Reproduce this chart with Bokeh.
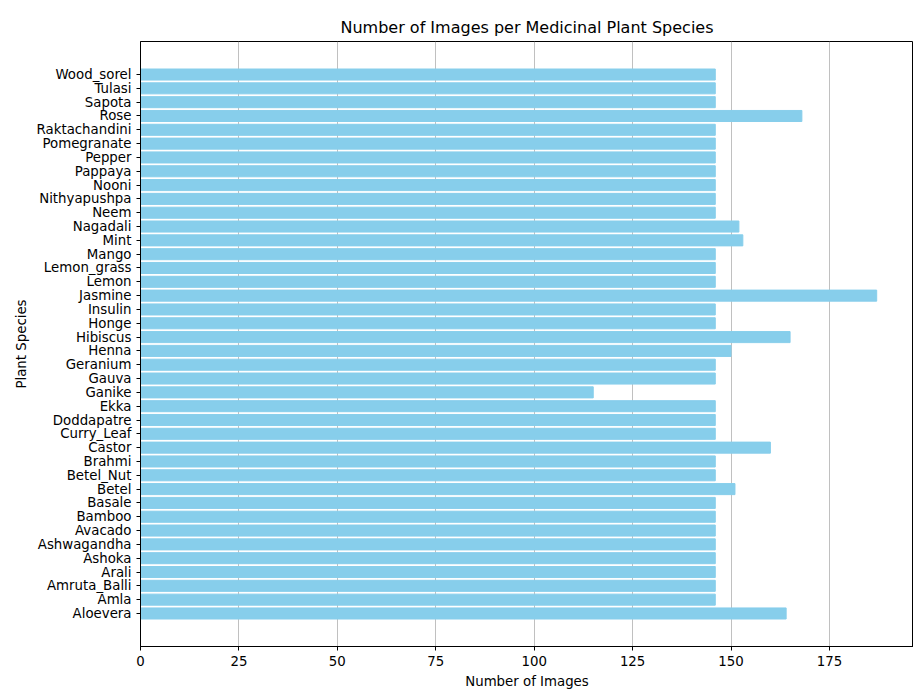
from bokeh.plotting import figure
from bokeh.models import Range1d, FixedTicker
from bokeh.embed import file_html
from bokeh.resources import INLINE

species = ["Aloevera", "Amla", "Amruta_Balli", "Arali", "Ashoka", "Ashwagandha", "Avacado",
           "Bamboo", "Basale", "Betel", "Betel_Nut", "Brahmi", "Castor", "Curry_Leaf",
           "Doddapatre", "Ekka", "Ganike", "Gauva", "Geranium", "Henna", "Hibiscus", "Honge",
           "Insulin", "Jasmine", "Lemon", "Lemon_grass", "Mango", "Mint", "Nagadali", "Neem",
           "Nithyapushpa", "Nooni", "Pappaya", "Pepper", "Pomegranate", "Raktachandini",
           "Rose", "Sapota", "Tulasi", "Wood_sorel"]
counts = [164, 146, 146, 146, 146, 146, 146,
          146, 146, 151, 146, 146, 160, 146,
          146, 146, 115, 146, 146, 150, 165, 146,
          146, 187, 146, 146, 146, 153, 152, 146,
          146, 146, 146, 146, 146, 146,
          168, 146, 146, 146]

pos = list(range(len(species)))

p = figure(width=913, height=691, output_backend="svg", toolbar_location=None,
           title="Number of Images per Medicinal Plant Species",
           x_range=Range1d(0, 196.35), y_range=Range1d(-2.39, 41.39),
           min_border_left=140, min_border_right=0, min_border_top=41, min_border_bottom=44)
p.hbar(y=pos, right=counts, left=0, height=0.8, color="skyblue")

p.title.align = "center"
p.title.text_font = "DejaVu Sans"
p.title.text_font_size = "12pt"
p.title.text_font_style = "normal"
p.title.text_color = "black"
p.xaxis.axis_label = "Number of Images"
p.yaxis.axis_label = "Plant Species"
for ax in (p.xaxis, p.yaxis):
    ax.axis_label_text_font = "DejaVu Sans"
    ax.axis_label_text_font_style = "normal"
    ax.axis_label_text_font_size = "10pt"
    ax.axis_label_text_color = "black"
    ax.major_label_text_font = "DejaVu Sans"
    ax.major_label_text_font_size = "10pt"
    ax.major_label_text_color = "black"
    ax.minor_tick_line_color = None
    ax.major_tick_out = 4
    ax.major_tick_in = 0
    ax.axis_line_color = "black"
    ax.major_tick_line_color = "black"
p.xaxis.ticker = FixedTicker(ticks=[0, 25, 50, 75, 100, 125, 150, 175])
p.yaxis.ticker = FixedTicker(ticks=pos)
p.yaxis.major_label_overrides = {i: s for i, s in enumerate(species)}
p.ygrid.grid_line_color = None
p.xgrid.grid_line_color = "#b0b0b0"
p.xgrid.grid_line_width = 0.8
p.outline_line_color = "black"

open("out.html", "w").write(file_html(p, INLINE))
